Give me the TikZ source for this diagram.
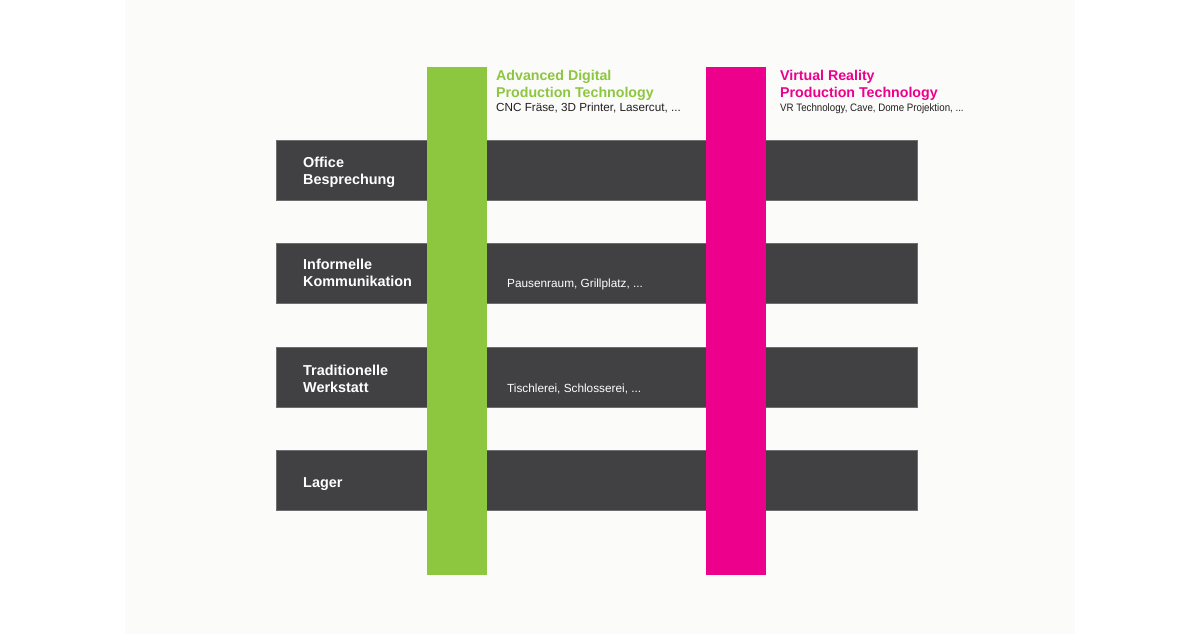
\documentclass[tikz,border=0pt]{standalone}
\usepackage{fontspec}
\setmainfont{Liberation Sans}
\definecolor{panel}{HTML}{FBFBFA}
\definecolor{barGray}{HTML}{414042}
\definecolor{barEdge}{HTML}{6D6E70}
\definecolor{adGreen}{HTML}{8DC63F}
\definecolor{vrPink}{HTML}{EC008C}
\definecolor{txtDark}{HTML}{231F20}
\tikzset{
  graybar/.style={rectangle, inner sep=0pt, minimum width=641pt, minimum height=60pt, fill=barGray, draw=barEdge, line width=0.6pt},
  vbar/.style={rectangle, inner sep=0pt, minimum width=60pt, minimum height=508pt},
  rowlabel/.style={anchor=base west, inner sep=0pt, text=white, font=\fontsize{14.4}{16}\selectfont\bfseries},
  rowsub/.style={anchor=base west, inner sep=0pt, text=white, font=\fontsize{11.8}{13}\selectfont},
  headtitle/.style={anchor=base west, inner sep=0pt, font=\fontsize{14.2}{16}\selectfont\bfseries},
  headsub/.style={anchor=base west, inner sep=0pt, text=txtDark, font=\fontsize{11.7}{13}\selectfont},
}
\begin{document}
\begin{tikzpicture}[x=1pt,y=-1pt]
\fill[white] (0,0) rectangle (1200,634);
\fill[panel] (125,0) rectangle (1075,634);
\useasboundingbox (0,0) rectangle (1200,634);
% horizontal bars
\node[graybar] (r1) at (596.5,170) {};
\node[graybar] (r2) at (596.5,273) {};
\node[graybar] (r3) at (596.5,377) {};
\node[graybar] (r4) at (596.5,480) {};
% vertical bars
\node[vbar, fill=adGreen] (g) at (457,321) {};
\node[vbar, fill=vrPink] (m) at (736,321) {};
% row labels
\node[rowlabel] (l1a) at (303,167.5) {Office};
\node[rowlabel] (l1b) at (303,184.5) {Besprechung};
\node[rowlabel] (l2a) at (303,269) {Informelle};
\node[rowlabel] (l2b) at (303,286) {Kommunikation};
\node[rowlabel] (l3a) at (303,375) {Traditionelle};
\node[rowlabel] (l3b) at (303,392) {Werkstatt};
\node[rowlabel] (l4a) at (303,487) {Lager};
\node[rowsub] (s2) at (507,287.5) {Pausenraum, Grillplatz, ...};
\node[rowsub] (s3) at (507,392.5) {Tischlerei, Schlosserei, ...};
% headers
\node[headtitle, text=adGreen] (h1a) at (496,81) {Advanced Digital};
\node[headtitle, text=adGreen] (h1b) at (496,98) {Production Technology};
\node[headsub] (h1c) at (496,111.5) {CNC Fräse, 3D Printer, Lasercut, ...};
\node[headsub, font=\fontsize{10.8}{13}\selectfont, xscale=0.9] (h2c) at (780,111.5) {VR Technology, Cave, Dome Projektion, ...};
\node[headtitle, text=vrPink] (h2a) at (780,81) {Virtual Reality};
\node[headtitle, text=vrPink] (h2b) at (780,98) {Production Technology};
\end{tikzpicture}
\end{document}
